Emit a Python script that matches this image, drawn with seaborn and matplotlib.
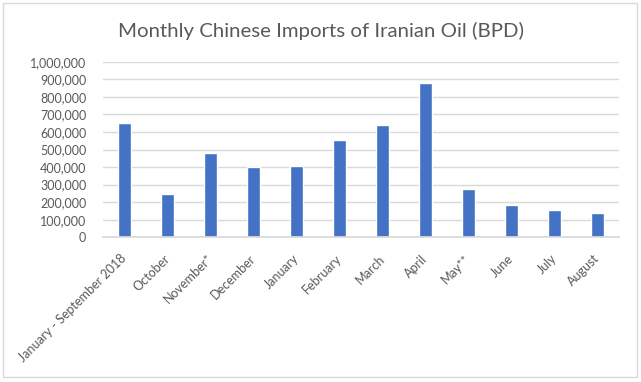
import matplotlib
matplotlib.use("Agg")
import matplotlib.pyplot as plt
import matplotlib.transforms as mtransforms
import pandas as pd
import seaborn as sns
from matplotlib.patches import Rectangle
from matplotlib.ticker import FuncFormatter

months = [
    "January - September 2018", "October", "November*", "December", "January",
    "February", "March", "April", "May**", "June", "July", "August",
]
bpd = [652000, 247000, 481000, 401000, 407000, 555000, 641000, 880000, 276000, 184000, 156000, 139000]

TEXT = "#595959"
BAR = "#4472C4"
GRID = "#D9D9D9"

sns.set_theme(style="white")
plt.rcParams["font.family"] = ["Lato", "DejaVu Sans"]

df = pd.DataFrame({"month": months, "bpd": bpd})

fig = plt.figure(figsize=(6.41, 3.82), dpi=100)
ax = fig.add_axes([0.1607, 0.379, 0.805, 0.459])

sns.barplot(data=df, x="month", y="bpd", color=BAR, width=0.3, saturation=1, ax=ax)

ax.set_ylim(0, 1_000_000)
ax.set_yticks(range(0, 1_000_001, 100_000))
ax.yaxis.set_major_formatter(FuncFormatter(lambda v, _: f"{int(v):,}"))
ax.yaxis.grid(True, color=GRID, linewidth=1)
ax.set_axisbelow(True)
for side in ["top", "right", "left"]:
    ax.spines[side].set_visible(False)
ax.spines["bottom"].set_color(GRID)
ax.set_xlabel("")
ax.set_ylabel("")
ax.tick_params(axis="y", length=0, pad=12, labelsize=9, labelcolor=TEXT)
ax.tick_params(axis="x", length=0, pad=11, labelsize=9, labelcolor=TEXT)
shift = mtransforms.ScaledTranslation(-3 / 72, 0, fig.dpi_scale_trans)
for lbl in ax.get_xticklabels():
    lbl.set_rotation(45)
    lbl.set_ha("right")
    lbl.set_rotation_mode("anchor")
    lbl.set_transform(lbl.get_transform() + shift)

fig.text(0.5, 0.92, "Monthly Chinese Imports of Iranian Oil (BPD)", ha="center", va="center",
         fontsize=14.7, color=TEXT)

fig.patches.append(Rectangle((0.0047, 0.014), 0.989, 0.979, transform=fig.transFigure,
                             fill=False, edgecolor=GRID, linewidth=1))

fig.savefig("out.png", dpi=100, facecolor="white")
